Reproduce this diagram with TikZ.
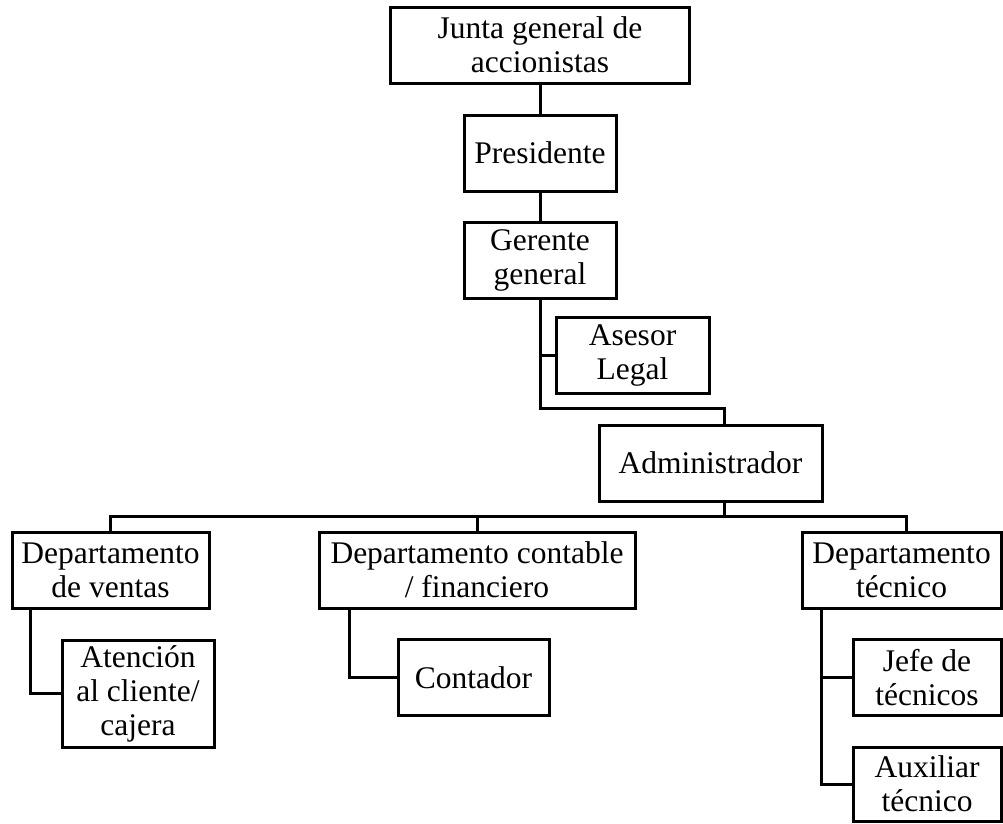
\documentclass[tikz,border=0pt]{standalone}
\usepackage{fontspec}
\setmainfont{Liberation Serif}
\tikzset{
  caja/.style={draw, line width=3pt, rectangle, align=center, inner sep=0pt,
    minimum height=76pt, font=\fontsize{31.5}{34}\selectfont},
  linea/.style={line width=3pt}
}
\begin{document}
\begin{tikzpicture}[x=1pt, y=-1pt]
    \useasboundingbox (0,0) rectangle (1003,823);
    \node[caja, minimum width=299pt] (junta) at (540,45) {Junta general de\\accionistas};
    \node[caja, minimum width=152pt] (pres) at (540,153) {Presidente};
    \node[caja, minimum width=152pt] (ger) at (540,260) {Gerente\\general};
    \node[caja, minimum width=153pt] (asesor) at (632.5,355) {Asesor\\Legal};
    \node[caja, minimum width=223pt] (admin) at (710.5,463) {Administrador};
    \node[caja, minimum width=197pt] (ventas) at (110.5,570) {Departamento\\de ventas};
    \node[caja, minimum width=316pt] (contable) at (477,570) {Departamento contable\\/ financiero};
    \node[caja, minimum width=199pt] (tecnico) at (901.5,570) {Departamento\\técnico};
    \node[caja, minimum width=152pt, minimum height=107pt] (atencion) at (138,693.5) {Atención\\al cliente/\\cajera};
    \node[caja, minimum width=151pt] (contador) at (473.5,677.5) {Contador};
    \node[caja, minimum width=148pt] (jefe) at (927,677.5) {Jefe de\\técnicos};
    \node[caja, minimum width=148pt, minimum height=74pt] (auxiliar) at (927,784) {Auxiliar\\técnico};
    \coordinate (codo) at (724,408);
    \coordinate (bus) at (724,516);
    \draw[linea] (junta.south) -- (pres.north);
    \draw[linea] (pres.south) -- (ger.north);
    \draw[linea] (ger.south) |- (codo) -- (codo |- admin.north);
    \draw[linea] (ger.south |- asesor.west) -- (asesor.west);
    \draw[linea] (codo |- admin.south) -- (bus);
    \draw[linea] (ventas.north) |- (bus) -| ([xshift=4.5pt]tecnico.north);
    \draw[linea] (contable.north) -- (contable.north |- bus);
    \draw[linea] ([xshift=20pt]ventas.south west) |- (atencion.west);
    \draw[linea] ([xshift=32pt]contable.south west) |- (contador.west);
    \draw[linea] ([xshift=21pt]tecnico.south west) |- (auxiliar.west);
    \draw[linea] ([xshift=21pt]tecnico.south west |- jefe.west) -- (jefe.west);
\end{tikzpicture}
\end{document}
